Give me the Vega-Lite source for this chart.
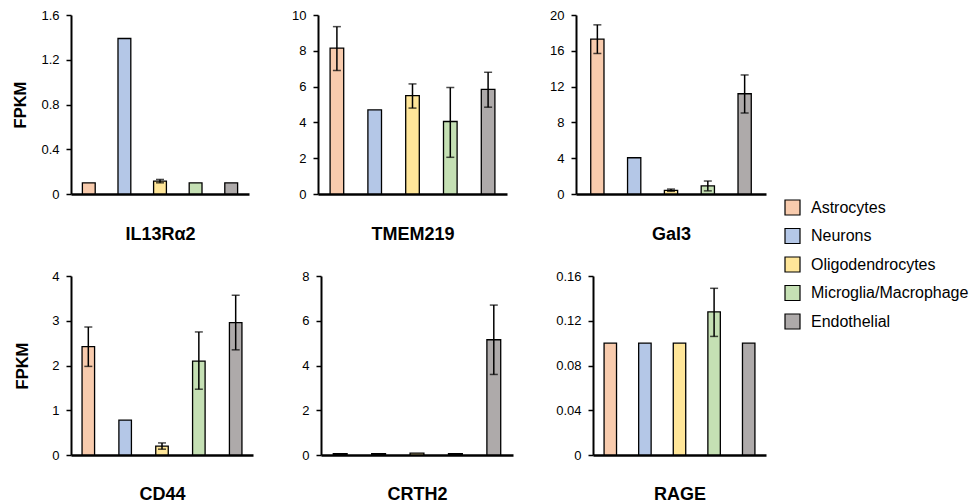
{
  "$schema": "https://vega.github.io/schema/vega-lite/v6.json",
  "padding": {"top": 9, "left": 12, "right": 0, "bottom": 0},
  "background": "white",
  "datasets": {
    "d": [
      {"gene": "IL13Rα2", "cell": "Astrocytes", "value": 0.1, "lo": null, "hi": null},
      {"gene": "IL13Rα2", "cell": "Neurons", "value": 1.39, "lo": null, "hi": null},
      {"gene": "IL13Rα2", "cell": "Oligodendrocytes", "value": 0.115, "lo": 0.1, "hi": 0.13},
      {"gene": "IL13Rα2", "cell": "Microglia/Macrophage", "value": 0.1, "lo": null, "hi": null},
      {"gene": "IL13Rα2", "cell": "Endothelial", "value": 0.1, "lo": null, "hi": null},
      {"gene": "TMEM219", "cell": "Astrocytes", "value": 8.15, "lo": 6.9, "hi": 9.35},
      {"gene": "TMEM219", "cell": "Neurons", "value": 4.7, "lo": null, "hi": null},
      {"gene": "TMEM219", "cell": "Oligodendrocytes", "value": 5.5, "lo": 4.8, "hi": 6.15},
      {"gene": "TMEM219", "cell": "Microglia/Macrophage", "value": 4.05, "lo": 2.05, "hi": 5.95},
      {"gene": "TMEM219", "cell": "Endothelial", "value": 5.85, "lo": 4.85, "hi": 6.8},
      {"gene": "Gal3", "cell": "Astrocytes", "value": 17.3, "lo": 15.7, "hi": 18.9},
      {"gene": "Gal3", "cell": "Neurons", "value": 4.05, "lo": null, "hi": null},
      {"gene": "Gal3", "cell": "Oligodendrocytes", "value": 0.4, "lo": 0.3, "hi": 0.55},
      {"gene": "Gal3", "cell": "Microglia/Macrophage", "value": 0.9, "lo": 0.35, "hi": 1.45},
      {"gene": "Gal3", "cell": "Endothelial", "value": 11.2, "lo": 9.05, "hi": 13.3},
      {"gene": "CD44", "cell": "Astrocytes", "value": 2.42, "lo": 1.98, "hi": 2.86},
      {"gene": "CD44", "cell": "Neurons", "value": 0.78, "lo": null, "hi": null},
      {"gene": "CD44", "cell": "Oligodendrocytes", "value": 0.2, "lo": 0.13, "hi": 0.27},
      {"gene": "CD44", "cell": "Microglia/Macrophage", "value": 2.1, "lo": 1.47, "hi": 2.75},
      {"gene": "CD44", "cell": "Endothelial", "value": 2.96, "lo": 2.35, "hi": 3.57},
      {"gene": "CRTH2", "cell": "Astrocytes", "value": 0.06, "lo": null, "hi": null},
      {"gene": "CRTH2", "cell": "Neurons", "value": 0.06, "lo": null, "hi": null},
      {"gene": "CRTH2", "cell": "Oligodendrocytes", "value": 0.08, "lo": null, "hi": null},
      {"gene": "CRTH2", "cell": "Microglia/Macrophage", "value": 0.06, "lo": null, "hi": null},
      {"gene": "CRTH2", "cell": "Endothelial", "value": 5.15, "lo": 3.6, "hi": 6.7},
      {"gene": "RAGE", "cell": "Astrocytes", "value": 0.1, "lo": null, "hi": null},
      {"gene": "RAGE", "cell": "Neurons", "value": 0.1, "lo": null, "hi": null},
      {"gene": "RAGE", "cell": "Oligodendrocytes", "value": 0.1, "lo": null, "hi": null},
      {"gene": "RAGE", "cell": "Microglia/Macrophage", "value": 0.128, "lo": 0.106, "hi": 0.149},
      {"gene": "RAGE", "cell": "Endothelial", "value": 0.1, "lo": null, "hi": null}
    ]
  },
  "spacing": 27,
  "align": "none",
  "vconcat": [
    {
      "spacing": 42,
      "align": "none",
      "hconcat": [
        {
          "width": 178, "height": 179,
          "data": {"name": "d"},
          "transform": [{"filter": "datum.gene === 'IL13Rα2'"}],
          "encoding": {"x": {"field": "cell", "type": "nominal", "sort": ["Astrocytes", "Neurons", "Oligodendrocytes", "Microglia/Macrophage", "Endothelial"], "scale": {"paddingInner": 0.64, "paddingOuter": 0.32}, "axis": {"title": "IL13Rα2", "labels": false, "ticks": false, "titlePadding": 31}}},
          "layer": [
            {"mark": {"type": "bar", "stroke": "black", "strokeWidth": 1.3}, "encoding": {"y": {"field": "value", "type": "quantitative", "scale": {"domain": [0, 1.6]}, "axis": {"values": [0, 0.4, 0.8, 1.2, 1.6], "format": ".2~f", "title": "FPKM", "titlePadding": 12}}, "color": {"field": "cell", "type": "nominal", "title": null, "scale": {"domain": ["Astrocytes", "Neurons", "Oligodendrocytes", "Microglia/Macrophage", "Endothelial"], "range": ["#F8CBAD", "#B4C7E7", "#FFE699", "#C5E0B4", "#AEAAAA"]}}}},
            {"transform": [{"filter": "datum.lo != null"}], "mark": {"type": "rule", "color": "black", "strokeWidth": 1.5}, "encoding": {"y": {"field": "lo", "type": "quantitative", "axis": {"values": [0, 0.4, 0.8, 1.2, 1.6], "format": ".2~f", "title": "FPKM", "titlePadding": 12}}, "y2": {"field": "hi"}}},
            {"transform": [{"filter": "datum.lo != null"}], "mark": {"type": "tick", "color": "black", "size": 8, "thickness": 1.5}, "encoding": {"y": {"field": "lo", "type": "quantitative", "axis": {"values": [0, 0.4, 0.8, 1.2, 1.6], "format": ".2~f", "title": "FPKM", "titlePadding": 12}}}},
            {"transform": [{"filter": "datum.lo != null"}], "mark": {"type": "tick", "color": "black", "size": 8, "thickness": 1.5}, "encoding": {"y": {"field": "hi", "type": "quantitative", "axis": {"values": [0, 0.4, 0.8, 1.2, 1.6], "format": ".2~f", "title": "FPKM", "titlePadding": 12}}}}
          ]
        },
        {
          "width": 189, "height": 179,
          "data": {"name": "d"},
          "transform": [{"filter": "datum.gene === 'TMEM219'"}],
          "encoding": {"x": {"field": "cell", "type": "nominal", "sort": ["Astrocytes", "Neurons", "Oligodendrocytes", "Microglia/Macrophage", "Endothelial"], "scale": {"paddingInner": 0.64, "paddingOuter": 0.32}, "axis": {"title": "TMEM219", "labels": false, "ticks": false, "titlePadding": 31}}},
          "layer": [
            {"mark": {"type": "bar", "stroke": "black", "strokeWidth": 1.3}, "encoding": {"y": {"field": "value", "type": "quantitative", "scale": {"domain": [0, 10]}, "axis": {"values": [0, 2, 4, 6, 8, 10], "format": ".2~f", "title": null}}, "color": {"field": "cell", "type": "nominal", "title": null, "scale": {"domain": ["Astrocytes", "Neurons", "Oligodendrocytes", "Microglia/Macrophage", "Endothelial"], "range": ["#F8CBAD", "#B4C7E7", "#FFE699", "#C5E0B4", "#AEAAAA"]}}}},
            {"transform": [{"filter": "datum.lo != null"}], "mark": {"type": "rule", "color": "black", "strokeWidth": 1.5}, "encoding": {"y": {"field": "lo", "type": "quantitative", "axis": {"values": [0, 2, 4, 6, 8, 10], "format": ".2~f", "title": null}}, "y2": {"field": "hi"}}},
            {"transform": [{"filter": "datum.lo != null"}], "mark": {"type": "tick", "color": "black", "size": 8, "thickness": 1.5}, "encoding": {"y": {"field": "lo", "type": "quantitative", "axis": {"values": [0, 2, 4, 6, 8, 10], "format": ".2~f", "title": null}}}},
            {"transform": [{"filter": "datum.lo != null"}], "mark": {"type": "tick", "color": "black", "size": 8, "thickness": 1.5}, "encoding": {"y": {"field": "hi", "type": "quantitative", "axis": {"values": [0, 2, 4, 6, 8, 10], "format": ".2~f", "title": null}}}}
          ]
        },
        {
          "width": 190, "height": 179,
          "data": {"name": "d"},
          "transform": [{"filter": "datum.gene === 'Gal3'"}],
          "encoding": {"x": {"field": "cell", "type": "nominal", "sort": ["Astrocytes", "Neurons", "Oligodendrocytes", "Microglia/Macrophage", "Endothelial"], "scale": {"paddingInner": 0.64, "paddingOuter": 0.4}, "axis": {"title": "Gal3", "labels": false, "ticks": false, "titlePadding": 31}}},
          "layer": [
            {"mark": {"type": "bar", "stroke": "black", "strokeWidth": 1.3}, "encoding": {"y": {"field": "value", "type": "quantitative", "scale": {"domain": [0, 20]}, "axis": {"values": [0, 4, 8, 12, 16, 20], "format": ".2~f", "title": null}}, "color": {"field": "cell", "type": "nominal", "title": null, "scale": {"domain": ["Astrocytes", "Neurons", "Oligodendrocytes", "Microglia/Macrophage", "Endothelial"], "range": ["#F8CBAD", "#B4C7E7", "#FFE699", "#C5E0B4", "#AEAAAA"]}}}},
            {"transform": [{"filter": "datum.lo != null"}], "mark": {"type": "rule", "color": "black", "strokeWidth": 1.5}, "encoding": {"y": {"field": "lo", "type": "quantitative", "axis": {"values": [0, 4, 8, 12, 16, 20], "format": ".2~f", "title": null}}, "y2": {"field": "hi"}}},
            {"transform": [{"filter": "datum.lo != null"}], "mark": {"type": "tick", "color": "black", "size": 8, "thickness": 1.5}, "encoding": {"y": {"field": "lo", "type": "quantitative", "axis": {"values": [0, 4, 8, 12, 16, 20], "format": ".2~f", "title": null}}}},
            {"transform": [{"filter": "datum.lo != null"}], "mark": {"type": "tick", "color": "black", "size": 8, "thickness": 1.5}, "encoding": {"y": {"field": "hi", "type": "quantitative", "axis": {"values": [0, 4, 8, 12, 16, 20], "format": ".2~f", "title": null}}}}
          ]
        }
      ]
    },
    {
      "spacing": 42,
      "align": "none",
      "hconcat": [
        {
          "width": 182, "height": 179,
          "data": {"name": "d"},
          "transform": [{"filter": "datum.gene === 'CD44'"}],
          "encoding": {"x": {"field": "cell", "type": "nominal", "sort": ["Astrocytes", "Neurons", "Oligodendrocytes", "Microglia/Macrophage", "Endothelial"], "scale": {"paddingInner": 0.66, "paddingOuter": 0.3}, "axis": {"title": "CD44", "labels": false, "ticks": false, "titlePadding": 30}}},
          "layer": [
            {"mark": {"type": "bar", "stroke": "black", "strokeWidth": 1.3}, "encoding": {"y": {"field": "value", "type": "quantitative", "scale": {"domain": [0, 4]}, "axis": {"values": [0, 1, 2, 3, 4], "format": ".2~f", "title": "FPKM", "titlePadding": 21}}, "color": {"field": "cell", "type": "nominal", "title": null, "scale": {"domain": ["Astrocytes", "Neurons", "Oligodendrocytes", "Microglia/Macrophage", "Endothelial"], "range": ["#F8CBAD", "#B4C7E7", "#FFE699", "#C5E0B4", "#AEAAAA"]}}}},
            {"transform": [{"filter": "datum.lo != null"}], "mark": {"type": "rule", "color": "black", "strokeWidth": 1.5}, "encoding": {"y": {"field": "lo", "type": "quantitative", "axis": {"values": [0, 1, 2, 3, 4], "format": ".2~f", "title": "FPKM", "titlePadding": 21}}, "y2": {"field": "hi"}}},
            {"transform": [{"filter": "datum.lo != null"}], "mark": {"type": "tick", "color": "black", "size": 8, "thickness": 1.5}, "encoding": {"y": {"field": "lo", "type": "quantitative", "axis": {"values": [0, 1, 2, 3, 4], "format": ".2~f", "title": "FPKM", "titlePadding": 21}}}},
            {"transform": [{"filter": "datum.lo != null"}], "mark": {"type": "tick", "color": "black", "size": 8, "thickness": 1.5}, "encoding": {"y": {"field": "hi", "type": "quantitative", "axis": {"values": [0, 1, 2, 3, 4], "format": ".2~f", "title": "FPKM", "titlePadding": 21}}}}
          ]
        },
        {
          "width": 192, "height": 179,
          "data": {"name": "d"},
          "transform": [{"filter": "datum.gene === 'CRTH2'"}],
          "encoding": {"x": {"field": "cell", "type": "nominal", "sort": ["Astrocytes", "Neurons", "Oligodendrocytes", "Microglia/Macrophage", "Endothelial"], "scale": {"paddingInner": 0.64, "paddingOuter": 0.32}, "axis": {"title": "CRTH2", "labels": false, "ticks": false, "titlePadding": 30}}},
          "layer": [
            {"mark": {"type": "bar", "stroke": "black", "strokeWidth": 1.3}, "encoding": {"y": {"field": "value", "type": "quantitative", "scale": {"domain": [0, 8]}, "axis": {"values": [0, 2, 4, 6, 8], "format": ".2~f", "title": null, "minExtent": 26}}, "color": {"field": "cell", "type": "nominal", "title": null, "scale": {"domain": ["Astrocytes", "Neurons", "Oligodendrocytes", "Microglia/Macrophage", "Endothelial"], "range": ["#F8CBAD", "#B4C7E7", "#FFE699", "#C5E0B4", "#AEAAAA"]}}}},
            {"transform": [{"filter": "datum.lo != null"}], "mark": {"type": "rule", "color": "black", "strokeWidth": 1.5}, "encoding": {"y": {"field": "lo", "type": "quantitative", "axis": {"values": [0, 2, 4, 6, 8], "format": ".2~f", "title": null, "minExtent": 26}}, "y2": {"field": "hi"}}},
            {"transform": [{"filter": "datum.lo != null"}], "mark": {"type": "tick", "color": "black", "size": 8, "thickness": 1.5}, "encoding": {"y": {"field": "lo", "type": "quantitative", "axis": {"values": [0, 2, 4, 6, 8], "format": ".2~f", "title": null, "minExtent": 26}}}},
            {"transform": [{"filter": "datum.lo != null"}], "mark": {"type": "tick", "color": "black", "size": 8, "thickness": 1.5}, "encoding": {"y": {"field": "hi", "type": "quantitative", "axis": {"values": [0, 2, 4, 6, 8], "format": ".2~f", "title": null, "minExtent": 26}}}}
          ]
        },
        {
          "width": 173, "height": 179,
          "data": {"name": "d"},
          "transform": [{"filter": "datum.gene === 'RAGE'"}],
          "encoding": {"x": {"field": "cell", "type": "nominal", "sort": ["Astrocytes", "Neurons", "Oligodendrocytes", "Microglia/Macrophage", "Endothelial"], "scale": {"paddingInner": 0.64, "paddingOuter": 0.32}, "axis": {"title": "RAGE", "labels": false, "ticks": false, "titlePadding": 30}}},
          "layer": [
            {"mark": {"type": "bar", "stroke": "black", "strokeWidth": 1.3}, "encoding": {"y": {"field": "value", "type": "quantitative", "scale": {"domain": [0, 0.16]}, "axis": {"values": [0, 0.04, 0.08, 0.12, 0.16], "format": ".2~f", "title": null}}, "color": {"field": "cell", "type": "nominal", "title": null, "scale": {"domain": ["Astrocytes", "Neurons", "Oligodendrocytes", "Microglia/Macrophage", "Endothelial"], "range": ["#F8CBAD", "#B4C7E7", "#FFE699", "#C5E0B4", "#AEAAAA"]}}}},
            {"transform": [{"filter": "datum.lo != null"}], "mark": {"type": "rule", "color": "black", "strokeWidth": 1.5}, "encoding": {"y": {"field": "lo", "type": "quantitative", "axis": {"values": [0, 0.04, 0.08, 0.12, 0.16], "format": ".2~f", "title": null}}, "y2": {"field": "hi"}}},
            {"transform": [{"filter": "datum.lo != null"}], "mark": {"type": "tick", "color": "black", "size": 8, "thickness": 1.5}, "encoding": {"y": {"field": "lo", "type": "quantitative", "axis": {"values": [0, 0.04, 0.08, 0.12, 0.16], "format": ".2~f", "title": null}}}},
            {"transform": [{"filter": "datum.lo != null"}], "mark": {"type": "tick", "color": "black", "size": 8, "thickness": 1.5}, "encoding": {"y": {"field": "hi", "type": "quantitative", "axis": {"values": [0, 0.04, 0.08, 0.12, 0.16], "format": ".2~f", "title": null}}}}
          ]
        }
      ]
    }
  ],
  "config": {
    "font": "Liberation Sans",
    "view": {"stroke": null},
    "axis": {"grid": false, "domainColor": "black", "domainWidth": 2, "tickColor": "black", "tickWidth": 1.5, "tickSize": 5, "labelFontSize": 13, "labelColor": "black", "labelPadding": 7, "titleFontSize": 18, "titleFontWeight": "bold", "titleColor": "black", "minExtent": 0},
    "axisX": {"domainWidth": 2.5},
    "axisY": {"titleFontSize": 16.5, "titlePadding": 9, "minExtent": 0},
    "legend": {"orient": "none", "legendX": 713, "legendY": 184, "labelFontSize": 16, "labelColor": "black", "symbolType": "square", "symbolSize": 225, "symbolStrokeColor": "black", "symbolStrokeWidth": 1.2, "rowPadding": 7.5, "labelOffset": 10, "padding": 0}
  }
}
